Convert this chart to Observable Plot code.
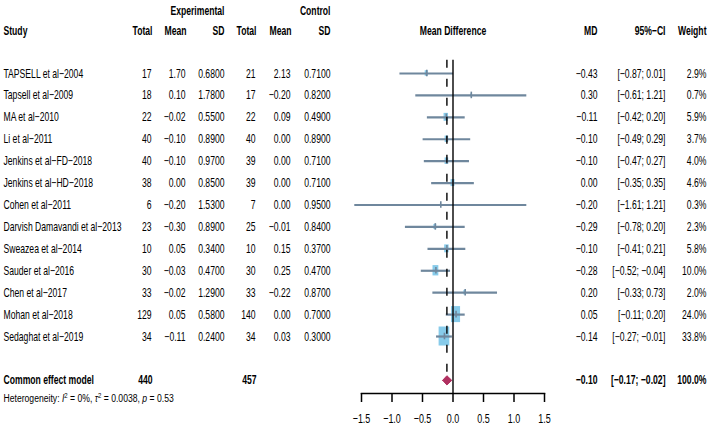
<!DOCTYPE html>
<html>
<head>
<meta charset="utf-8">
<script src="https://cdn.jsdelivr.net/npm/d3@7"></script>
<script src="https://cdn.jsdelivr.net/npm/@observablehq/plot@0.6"></script>
<style>
  html, body { margin: 0; padding: 0; background: #fff; overflow: hidden; }
</style>
</head>
<body>
<div id="chart"></div>
<script>
// ---------- data ----------
const studies = [
  "TAPSELL et al−2004", "Tapsell et al−2009", "MA et al−2010", "Li et al−2011",
  "Jenkins et al−FD−2018", "Jenkins et al−HD−2018", "Cohen et al−2011",
  "Darvish Damavandi et al−2013", "Sweazea et al−2014", "Sauder et al−2016",
  "Chen et al−2017", "Mohan et al−2018", "Sedaghat et al−2019"
];
const expTotal = [17, 18, 22, 40, 40, 38, 6, 23, 10, 30, 33, 129, 34];
const expMean  = [1.70, 0.10, -0.02, -0.10, -0.10, 0.00, -0.20, -0.30, 0.05, -0.03, -0.02, 0.05, -0.11];
const expSD    = [0.68, 1.78, 0.55, 0.89, 0.97, 0.85, 1.53, 0.89, 0.34, 0.47, 1.29, 0.58, 0.24];
const ctlTotal = [21, 17, 22, 40, 39, 39, 7, 25, 10, 30, 33, 140, 34];
const ctlMean  = [2.13, -0.20, 0.09, 0.00, 0.00, 0.00, 0.00, -0.01, 0.15, 0.25, -0.22, 0.00, 0.03];
const ctlSD    = [0.71, 0.82, 0.49, 0.89, 0.71, 0.71, 0.95, 0.84, 0.37, 0.47, 0.87, 0.70, 0.30];
const md       = [-0.43, 0.30, -0.11, -0.10, -0.10, 0.00, -0.20, -0.29, -0.10, -0.28, 0.20, 0.05, -0.14];
const ciLower  = [-0.87, -0.61, -0.42, -0.49, -0.47, -0.35, -1.61, -0.78, -0.41, -0.52, -0.33, -0.11, -0.27];
const ciUpper  = [0.01, 1.21, 0.20, 0.29, 0.27, 0.35, 1.21, 0.20, 0.21, -0.04, 0.73, 0.20, -0.01];
const weight   = [2.9, 0.7, 5.9, 3.7, 4.0, 4.6, 0.3, 2.3, 5.8, 10.0, 2.0, 24.0, 33.8];

const pooledLabel = "Common effect model";
const pooledExpTotal = 440;
const pooledCtlTotal = 457;
const pooledMD = -0.10;
const pooledLower = -0.17;
const pooledUpper = -0.02;
const pooledWeight = 100.0;

const xTicks = [-1.5, -1, -0.5, 0, 0.5, 1, 1.5];
const hetParts = [
  ["Heterogeneity: ", ""], ["I", "i"], ["2", "sup"], [" = 0%, ", ""],
  ["τ", "i"], ["2", "sup"], [" = 0.0038, ", ""], ["p", "i"], [" = 0.53", ""]
];

// ---------- layout constants ----------
const W = 708, H = 426;
const ML = 361, MR = 164, MT = 73, MB = 33;
const nRows = studies.length;
const pooledRow = nRows + 1;      // one blank row before the summary
const hetRow = pooledRow + 0.83;
const yMax = pooledRow + 0.6;
const headRow = -1.96, groupRow = -2.87;
const lineColor = "#6f879d";
const boxColor = "#87cbea";
const diamondColor = "#b03060";
const FS = 12.5;
const SQUEEZE = 0.69;
const HET_SQUEEZE = 0.75;

const f2 = d3.format(".2f"), f4 = d3.format(".4f"), f1 = d3.format(".1f");

const rows = studies.map((s, i) => ({
  i, study: s, et: expTotal[i], em: expMean[i], es: expSD[i],
  ct: ctlTotal[i], cm: ctlMean[i], cs: ctlSD[i],
  md: md[i], lo: ciLower[i], hi: ciUpper[i], w: weight[i]
}));

// box half sizes (data units), area ∝ weight
const hw = d => 0.0151 * Math.sqrt(d.w);
const hh = d => 0.0746 * Math.sqrt(d.w);

const diamond = [
  {x: pooledLower, y: pooledRow},
  {x: pooledMD, y: pooledRow - 0.21},
  {x: pooledUpper, y: pooledRow},
  {x: pooledMD, y: pooledRow + 0.21},
  {x: pooledLower, y: pooledRow}
];

// column helper: right-aligned text at pixel px
const col = (data, text, px, opts = {}) =>
  Plot.text(data, {y: "row", text, frameAnchor: "left", dx: px - ML,
                   textAnchor: "end", fontSize: FS, fill: "black", ...opts});

const tableRows = rows.map(d => ({...d, row: d.i}));
const pooledRows = [{row: pooledRow}];
const headRows = [{row: headRow}];
const groupRows = [{row: groupRow}];

const chart = Plot.plot({
  width: W, height: H,
  marginLeft: ML, marginRight: MR, marginTop: MT, marginBottom: MB,
  x: {domain: [-1.5, 1.5]},
  y: {domain: [0, yMax], reverse: true, axis: null},
  style: {fontFamily: "'Liberation Sans', Arial, sans-serif", fontSize: FS + "px", background: "#fff", color: "black"},
  marks: [
    Plot.rect(rows, {x1: d => d.md - hw(d), x2: d => d.md + hw(d),
                     y1: d => d.i - hh(d), y2: d => d.i + hh(d), fill: boxColor}),
    Plot.ruleY(rows, {y: "i", x1: "lo", x2: "hi", stroke: lineColor, strokeWidth: 2.2}),
    Plot.ruleX(rows, {x: "md", y1: d => d.i - 0.15, y2: d => d.i + 0.15, stroke: lineColor, strokeWidth: 1.6}),
    Plot.ruleX([0], {y1: -0.6, y2: yMax, stroke: "black", strokeWidth: 1.4}),
    Plot.ruleX([pooledMD], {y1: -0.6, y2: pooledRow - 0.36, stroke: "black", strokeWidth: 1.4, strokeDasharray: "8,11"}),
    Plot.line(diamond, {x: "x", y: "y", fill: diamondColor, stroke: diamondColor, strokeWidth: 1}),
    Plot.frame({anchor: "bottom", stroke: "black", strokeWidth: 1.5}),
    Plot.axisX({ticks: xTicks, tickSize: 9, tickPadding: 11, fontSize: 13, strokeWidth: 1.5, label: null}),

    // headers
    Plot.text(groupRows, {y: "row", text: () => "Experimental", frameAnchor: "left", dx: 224 - ML, textAnchor: "end", fontWeight: "bold", fontSize: FS}),
    Plot.text(groupRows, {y: "row", text: () => "Control", frameAnchor: "left", dx: 330 - ML, textAnchor: "end", fontWeight: "bold", fontSize: FS}),
    Plot.text(headRows, {y: "row", text: () => "Study", frameAnchor: "left", dx: 3 - ML, textAnchor: "start", fontWeight: "bold", fontSize: FS}),
    col(headRows, () => "Total", 152, {fontWeight: "bold"}),
    col(headRows, () => "Mean", 186, {fontWeight: "bold"}),
    col(headRows, () => "SD", 224, {fontWeight: "bold"}),
    col(headRows, () => "Total", 256, {fontWeight: "bold"}),
    col(headRows, () => "Mean", 291, {fontWeight: "bold"}),
    col(headRows, () => "SD", 330, {fontWeight: "bold"}),
    Plot.text(headRows, {y: "row", text: () => "Mean Difference", frameAnchor: "middle", fontWeight: "bold", fontSize: FS}),
    col(headRows, () => "MD", 597, {fontWeight: "bold"}),
    col(headRows, () => "95%−CI", 665, {fontWeight: "bold"}),
    col(headRows, () => "Weight", 706, {fontWeight: "bold"}),

    // study rows
    Plot.text(tableRows, {y: "row", text: "study", frameAnchor: "left", dx: 3 - ML, textAnchor: "start", fontSize: FS}),
    col(tableRows, d => String(d.et), 151),
    col(tableRows, d => f2(d.em), 185),
    col(tableRows, d => f4(d.es), 224),
    col(tableRows, d => String(d.ct), 255),
    col(tableRows, d => f2(d.cm), 290),
    col(tableRows, d => f4(d.cs), 330),
    col(tableRows, d => f2(d.md), 597),
    col(tableRows, d => `[${f2(d.lo)}; ${f2(d.hi)}]`, 665),
    col(tableRows, d => f1(d.w) + "%", 706),

    // pooled row
    Plot.text(pooledRows, {y: "row", text: () => pooledLabel, frameAnchor: "left", dx: 3 - ML, textAnchor: "start", fontWeight: "bold", fontSize: FS}),
    col(pooledRows, () => String(pooledExpTotal), 152, {fontWeight: "bold"}),
    col(pooledRows, () => String(pooledCtlTotal), 256, {fontWeight: "bold"}),
    col(pooledRows, () => f2(pooledMD), 597, {fontWeight: "bold"}),
    col(pooledRows, () => `[${f2(pooledLower)}; ${f2(pooledUpper)}]`, 665, {fontWeight: "bold"}),
    col(pooledRows, () => f1(pooledWeight) + "%", 706, {fontWeight: "bold"}),

    // heterogeneity
    Plot.text([{row: hetRow}], {y: "row", text: () => hetParts.map(p => p[0]).join(""), frameAnchor: "left", dx: 3 - ML, textAnchor: "start", fontSize: 11.5})
  ]
});

// rebuild heterogeneity text with italics / superscripts
chart.querySelectorAll("text").forEach(t => {
  if (t.textContent.startsWith("Heterogeneity")) {
    t.setAttribute("data-het", "1");
    while (t.firstChild) t.removeChild(t.firstChild);
    const ns = "http://www.w3.org/2000/svg";
    let raised = false;
    hetParts.forEach(([s, kind]) => {
      const ts = document.createElementNS(ns, "tspan");
      ts.textContent = s;
      if (kind === "i") ts.setAttribute("font-style", "italic");
      if (kind === "sup") { ts.setAttribute("font-size", "8px"); ts.setAttribute("dy", "-4.5"); raised = true; }
      else if (raised) { ts.setAttribute("dy", "4.5"); raised = false; }
      t.appendChild(ts);
    });
  }
});

// horizontally condense all text (anchor point stays fixed)
chart.querySelectorAll("text").forEach(t => {
  const tr = t.getAttribute("transform") || "";
  const xa = t.getAttribute("x");
  let extra = "";
  if (xa !== null && isFinite(+xa) && +xa !== 0) { extra = ` translate(${+xa},0)`; t.removeAttribute("x"); }
  const s = t.getAttribute("data-het") ? HET_SQUEEZE : SQUEEZE;
  t.setAttribute("transform", `${tr}${extra} scale(${s},1)`.trim());
});

document.getElementById("chart").appendChild(chart);
</script>
</body>
</html>
